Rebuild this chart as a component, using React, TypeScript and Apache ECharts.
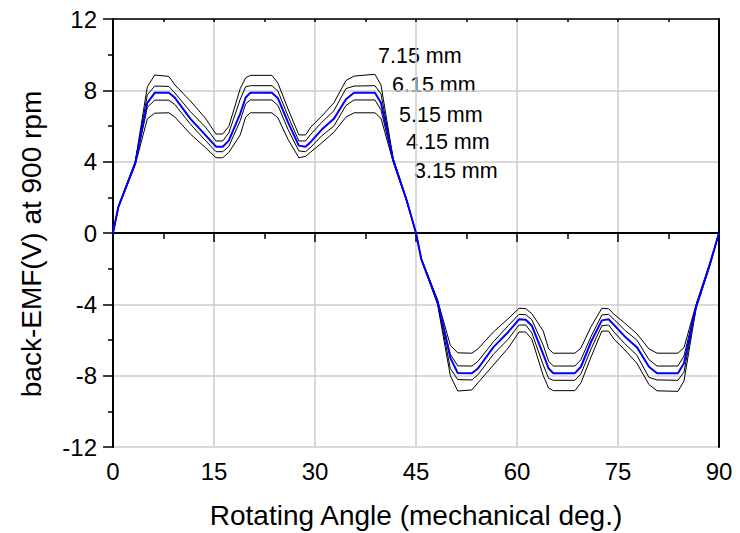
import React, { useEffect, useRef } from "react";
import * as echarts from "echarts";

// Rotor angle (mechanical degrees)
const angles = [
  0, 0.8, 3.3, 5.1, 6.2, 8.3, 9.2, 11.5, 13.7, 15.3, 16.3, 17.2, 18.9, 19.7, 20.4, 23.6, 24.5, 26.0, 27.6, 28.6,
  29.4, 31.0, 32.8, 34.6, 35.8, 38.9, 39.8, 41.6, 43.6, 45,
  45.8, 48.2, 50.1, 51.2, 53.3, 54.2, 56.5, 58.7, 60.3, 61.3, 62.2, 63.9, 64.7, 65.4, 68.6, 69.5, 71.0, 72.6, 73.6,
  74.4, 76.0, 77.8, 79.6, 80.8, 83.9, 84.8, 86.6, 88.6, 90,
];

// Back-EMF (V) at 900 rpm for each magnet thickness
const emf715 = [
  0, 1.5, 4.0, 8.2, 8.86, 8.78, 8.3, 7.4, 6.45, 5.55, 5.55, 5.98, 8.1, 8.7, 8.84, 8.84, 8.4, 6.95, 5.5, 5.5,
  5.95, 6.55, 7.3, 8.55, 8.8, 8.9, 8.3, 4.2, 1.9, 0,
  -1.5, -4.0, -8.0, -8.86, -8.8, -8.4, -7.4, -6.45, -5.55, -5.55, -5.95, -8.0, -8.7, -8.84, -8.84, -8.4, -6.95,
  -5.5, -5.5, -5.95, -6.55, -7.3, -8.5, -8.85, -8.88, -8.3, -4.2, -1.9, 0,
];
const emf615 = [
  0, 1.48, 3.96, 7.75, 8.24, 8.22, 7.85, 6.8, 5.95, 5.16, 5.16, 5.62, 7.5, 8.2, 8.26, 8.26, 7.95, 6.55, 5.16, 5.16,
  5.55, 6.2, 6.85, 8.1, 8.24, 8.26, 7.8, 4.15, 1.88, 0,
  -1.48, -3.9, -7.6, -8.22, -8.24, -7.95, -6.8, -5.95, -5.16, -5.16, -5.6, -7.4, -8.15, -8.26, -8.26, -7.9, -6.5,
  -5.2, -5.16, -5.55, -6.2, -6.85, -8.1, -8.24, -8.26, -7.8, -4.15, -1.85, 0,
];
const emf515 = [
  0, 1.47, 3.92, 7.3, 7.86, 7.86, 7.58, 6.4, 5.5, 4.84, 4.84, 5.18, 6.7, 7.6, 7.86, 7.86, 7.55, 6.2, 4.9, 4.84,
  5.12, 5.8, 6.4, 7.5, 7.86, 7.86, 7.3, 4.1, 1.85, 0,
  -1.5, -3.85, -7.0, -7.85, -7.86, -7.6, -6.4, -5.55, -4.84, -4.86, -5.2, -6.8, -7.6, -7.86, -7.86, -7.5, -6.1,
  -4.9, -4.84, -5.15, -5.8, -6.4, -7.5, -7.86, -7.86, -7.3, -4.15, -1.8, 0,
];
const emf415 = [
  0, 1.45, 3.88, 7.05, 7.45, 7.45, 7.2, 6.1, 5.2, 4.56, 4.56, 4.86, 6.3, 7.25, 7.46, 7.46, 7.15, 5.8, 4.6, 4.56,
  4.82, 5.45, 6.0, 7.15, 7.46, 7.46, 6.9, 4.05, 1.82, 0,
  -1.45, -3.8, -6.8, -7.45, -7.46, -7.2, -6.1, -5.2, -4.56, -4.58, -4.86, -6.3, -7.2, -7.46, -7.46, -7.1, -5.8,
  -4.6, -4.56, -4.84, -5.45, -6.0, -7.1, -7.46, -7.46, -6.9, -4.05, -1.78, 0,
];
const emf315 = [
  0, 1.42, 3.82, 6.4, 6.72, 6.74, 6.5, 5.55, 4.8, 4.22, 4.22, 4.52, 5.5, 6.5, 6.74, 6.74, 6.45, 5.25, 4.22, 4.3,
  4.55, 5.05, 5.65, 6.5, 6.74, 6.74, 6.43, 4.0, 1.78, 0,
  -1.42, -3.75, -6.3, -6.72, -6.74, -6.5, -5.55, -4.8, -4.22, -4.24, -4.52, -5.5, -6.5, -6.74, -6.74, -6.45, -5.25,
  -4.22, -4.25, -4.55, -5.05, -5.65, -6.5, -6.74, -6.74, -6.43, -4.0, -1.72, 0,
];

const curveLabels = ["7.15 mm", "6.15 mm", "5.15 mm", "4.15 mm", "3.15 mm"];

const xTicks = { min: 0, max: 90, interval: 15 };
const yTicks = { min: -12, max: 12, interval: 4 };

const FONT = '"Liberation Sans", Arial, sans-serif';

export default function App() {
  const ref = useRef<HTMLDivElement>(null);

  useEffect(() => {
    if (!ref.current) return;
    const chart = echarts.init(ref.current, undefined, { renderer: "svg" });

    const pts = (vals: number[]) => angles.map((a, i) => [a, vals[i]]);
    const blackLine = (name: string, vals: number[]) => ({
      name,
      type: "line",
      data: pts(vals),
      showSymbol: false,
      symbol: "none",
      lineStyle: { color: "#000", width: 1 },
      z: 3,
    });

    const labelPos = [
      [378, 56],
      [392, 85],
      [399, 115],
      [406, 142],
      [414, 171],
    ];

    chart.setOption({
      animation: false,
      backgroundColor: "#fff",
      grid: { left: 113, top: 19, width: 606, height: 428, containLabel: false },
      xAxis: [
        {
          type: "value",
          position: "bottom",
          ...xTicks,
          axisLine: { lineStyle: { color: "#000", width: 2 } },
          axisTick: { show: true, inside: false, length: 9, lineStyle: { color: "#000", width: 1.5 } },
          minorTick: { show: true, splitNumber: 2, length: 6, lineStyle: { color: "#000", width: 1.5 } },
          axisLabel: { color: "#000", fontSize: 24, fontFamily: FONT, margin: 12 },
          splitLine: { show: true, lineStyle: { color: "#cccccc", width: 1.5 } },
        },
        {
          type: "value",
          position: "top",
          ...xTicks,
          axisLine: { onZero: false, lineStyle: { color: "#000", width: 1.5 } },
          axisTick: { show: true, inside: true, length: 3, lineStyle: { color: "#000", width: 1.5 } },
          minorTick: { show: true, splitNumber: 2, length: 3, lineStyle: { color: "#000", width: 1.5 } },
          axisLabel: { show: false },
          splitLine: { show: false },
        },
      ],
      yAxis: [
        {
          type: "value",
          position: "left",
          ...yTicks,
          axisLine: { onZero: false, lineStyle: { color: "#000", width: 2 } },
          axisTick: { show: true, inside: false, length: 10, lineStyle: { color: "#000", width: 1.5 } },
          minorTick: { show: true, splitNumber: 2, length: 5, lineStyle: { color: "#000", width: 1.5 } },
          axisLabel: { color: "#000", fontSize: 24, fontFamily: FONT, margin: 16 },
          splitLine: { show: true, lineStyle: { color: "#cccccc", width: 1.5 } },
        },
        {
          type: "value",
          position: "right",
          ...yTicks,
          axisLine: { show: true, onZero: false, lineStyle: { color: "#000", width: 2 } },
          axisTick: { show: false },
          axisLabel: { show: false },
          splitLine: { show: false },
        },
      ],
      series: [
        blackLine(curveLabels[0], emf715),
        blackLine(curveLabels[1], emf615),
        blackLine(curveLabels[3], emf415),
        blackLine(curveLabels[4], emf315),
        {
          name: curveLabels[2],
          type: "line",
          data: pts(emf515),
          showSymbol: false,
          symbol: "none",
          lineStyle: { color: "#0000ff", width: 2 },
          z: 4,
        },
      ],
      graphic: [
        {
          type: "text",
          x: 31,
          y: 244,
          rotation: Math.PI / 2,
          style: {
            text: "back-EMF(V) at 900 rpm",
            font: `28px ${FONT}`,
            fill: "#000",
            align: "center",
            verticalAlign: "middle",
          },
        },
        {
          type: "text",
          x: 416,
          y: 515,
          style: {
            text: "Rotating Angle (mechanical deg.)",
            font: `28px ${FONT}`,
            fill: "#000",
            align: "center",
            verticalAlign: "middle",
          },
        },
        ...curveLabels.map((t, i) => ({
          type: "text",
          x: labelPos[i][0],
          y: labelPos[i][1],
          style: {
            text: t,
            font: `21.5px ${FONT}`,
            fill: "#000",
            align: "left",
            verticalAlign: "middle",
          },
        })),
      ],
    });

    return () => chart.dispose();
  }, []);

  return (
    <div
      ref={ref}
      style={{ position: "fixed", left: 0, top: 0, width: 740, height: 533 }}
    />
  );
}
